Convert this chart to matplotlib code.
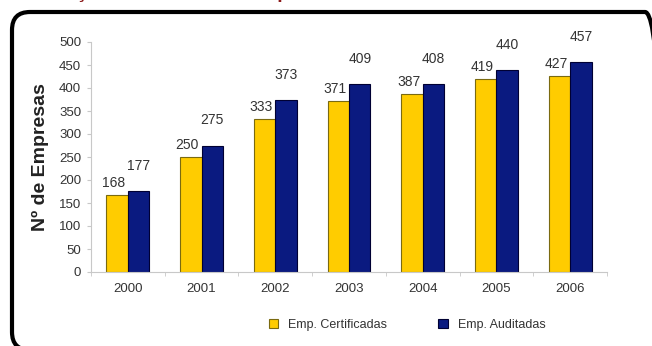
import matplotlib
matplotlib.use("Agg")
import matplotlib.pyplot as plt
from matplotlib.patches import FancyBboxPatch, Patch
import numpy as np

years = ["2000", "2001", "2002", "2003", "2004", "2005", "2006"]
certificadas = [168, 250, 333, 371, 387, 419, 427]
auditadas = [177, 275, 373, 409, 408, 440, 457]
series_names = ["Emp. Certificadas", "Emp. Auditadas"]
y_ticks = list(range(0, 501, 50))
ylabel = "Nº de Empresas"
title = "Evolução do número de empresas certificadas e auditadas"

plt.rcParams['font.family'] = ['Liberation Sans', 'DejaVu Sans']

W, H = 652, 346
fig = plt.figure(figsize=(W / 100, H / 100), dpi=100)
fig.patch.set_facecolor("white")

# rounded frame (display pixel coords)
frame = FancyBboxPatch((12, -4), 651, 338,
                       boxstyle="round,pad=0,rounding_size=18",
                       transform=None, fill=False, edgecolor="black",
                       linewidth=3.0)
fig.patches.append(frame)

# clipped title at top
fig.text(0.035, 1.0 + 1.5 / H, title, color="#8b1a1a", fontsize=14,
         fontweight="bold", ha="left", va="baseline")

ax = fig.add_axes([91 / W, (H - 272) / H, (607 - 91) / W, (272 - 42) / H])

x = np.arange(len(years))
bw = 0.29
yellow = "#FFCC00"
blue = "#0A1A80"
ax.bar(x - bw / 2, certificadas, bw, color=yellow, edgecolor="#7a6a10",
       linewidth=0.8)
ax.bar(x + bw / 2, auditadas, bw, color=blue, edgecolor="#000033",
       linewidth=0.8)

for xi, v in zip(x, certificadas):
    ax.annotate(str(v), (xi - bw / 2, v), xytext=(-2.5, 3.5),
                textcoords="offset points", ha="center", va="bottom",
                fontsize=10, color="#333333")
for xi, v in zip(x, auditadas):
    ax.annotate(str(v), (xi + bw / 2, v), xytext=(0, 13),
                textcoords="offset points", ha="center", va="bottom",
                fontsize=10, color="#333333")

ax.set_xlim(-0.5, len(years) - 0.5)
ax.set_ylim(0, 500)
ax.set_yticks(y_ticks)
ax.set_xticks(x)
ax.set_xticklabels(years)
ax.set_xticks(np.arange(len(years) + 1) - 0.5, minor=True)
ax.tick_params(axis="x", which="major", length=0, pad=8, labelsize=9.5,
               labelcolor="#333333")
ax.tick_params(axis="x", which="minor", length=3, color="#c8c8c8")
ax.tick_params(axis="y", length=3, color="#c8c8c8", labelsize=9.5,
               labelcolor="#333333", pad=4)

for s in ["top", "right"]:
    ax.spines[s].set_visible(False)
for s in ["left", "bottom"]:
    ax.spines[s].set_color("#c8c8c8")
    ax.spines[s].set_linewidth(0.8)

fig.text(40 / W, 1 - 157 / H, ylabel, rotation=90, fontsize=14,
         fontweight="bold", color="#222222", ha="center", va="center")

handles = [Patch(facecolor=yellow, edgecolor="#7a6a10", linewidth=0.8),
           Patch(facecolor=blue, edgecolor="#000033", linewidth=0.8)]
fig.legend(handles, series_names, loc="center",
           bbox_to_anchor=(407 / W, 1 - 325 / H), ncol=2, frameon=False,
           fontsize=9, handlelength=0.75, handleheight=0.75,
           handletextpad=0.8, columnspacing=4.1, labelcolor="#333333")

fig.savefig("out.png", dpi=100, facecolor="white")
